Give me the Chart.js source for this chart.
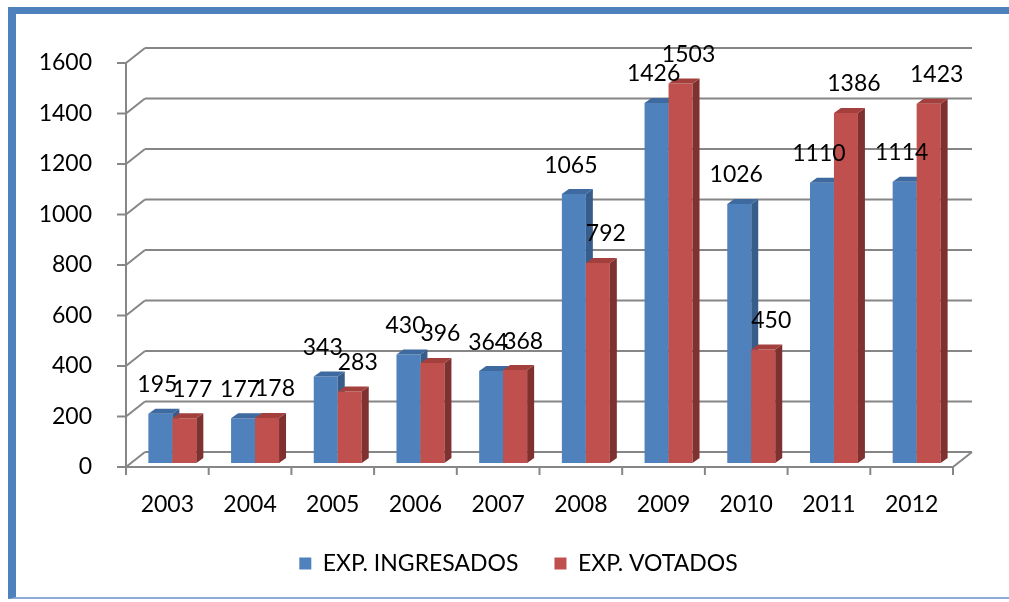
<!DOCTYPE html>
<html>
<head>
<meta charset="utf-8">
<script src="https://cdn.jsdelivr.net/npm/chart.js@4.4.1/dist/chart.umd.min.js"></script>
<style>
  html, body { margin: 0; padding: 0; background: #fff; }
  #wrap { position: relative; width: 1009px; height: 602px; overflow: hidden; }
  #frame {
    position: absolute; left: 8px; top: 7px; width: 1010px; height: 592px;
    border-left: 8px solid #4F81BD; border-top: 7px solid #4F81BD;
    border-bottom: 2px solid #8eaad6; box-sizing: border-box;
  }
  canvas { position: absolute; left: 0; top: 0; }
</style>
</head>
<body>
<div id="wrap">
  <canvas id="chart" width="1009" height="602"></canvas>
  <div id="frame"></div>
</div>
<script>
// data
const years = ["2003", "2004", "2005", "2006", "2007", "2008", "2009", "2010", "2011", "2012"];
const ingresados = [195, 177, 343, 430, 364, 1065, 1426, 1026, 1110, 1114];
const votados = [177, 178, 283, 396, 368, 792, 1503, 450, 1386, 1423];
const seriesNames = ["EXP. INGRESADOS", "EXP. VOTADOS"];
const yTicks = [0, 200, 400, 600, 800, 1000, 1200, 1400, 1600];

const FONT = "Lato, 'Open Sans', sans-serif";
const FSIZE = 23;
const DX = 19, DY = -15;      // depth of the back wall
const BX = 5, BY = -4;        // bars sit a little inside the box
const SX = 7, SY = -5;        // bar depth

const faces = [
  { front: "#4F81BD", top: "#3E6A9F", side: "#385D8A" },
  { front: "#C0504D", top: "#A3403D", side: "#7F3130" }
];

function line(ctx, x1, y1, x2, y2) {
  ctx.beginPath();
  ctx.moveTo(x1, y1);
  ctx.lineTo(x2, y2);
  ctx.stroke();
}

const box3d = {
  id: "box3d",
  afterLayout(chart) {
    // legend sits a bit right of the canvas centre
    chart.legend.left += 42;
    chart.legend.right += 42;
  },
  beforeDatasetsDraw(chart) {
    const ctx = chart.ctx;
    const y = chart.scales.y;
    const a = chart.chartArea;
    ctx.save();
    ctx.strokeStyle = "#868686";
    ctx.lineWidth = 2;
    // walls
    yTicks.forEach(v => {
      const py = y.getPixelForValue(v);
      line(ctx, a.left + DX, py + DY, a.right + DX, py + DY);
      line(ctx, a.left, py, a.left + DX, py + DY);
      line(ctx, a.left - 9, py, a.left, py);
    });
    line(ctx, a.left, a.top, a.left, a.bottom + 8);
    line(ctx, a.left, a.bottom, a.right, a.bottom);
    line(ctx, a.right, a.bottom, a.right + DX, a.bottom + DY);
    // category ticks
    for (let i = 0; i <= years.length; i++) {
      const px = a.left + (a.right - a.left) * i / years.length;
      line(ctx, px, a.bottom, px, a.bottom + 8);
    }

    // bars with their top and side faces
    ctx.translate(BX, BY);
    [0, 1].forEach(d => {
      const meta = chart.getDatasetMeta(d);
      meta.data.forEach(el => {
        const p = el.getProps(["x", "y", "base", "width"], true);
        const l = p.x - p.width / 2, r = p.x + p.width / 2;
        el.draw(ctx);
        ctx.fillStyle = faces[d].side;
        ctx.beginPath();
        ctx.moveTo(r, p.y); ctx.lineTo(r + SX, p.y + SY);
        ctx.lineTo(r + SX, p.base + SY); ctx.lineTo(r, p.base);
        ctx.closePath(); ctx.fill();
        ctx.fillStyle = faces[d].top;
        ctx.beginPath();
        ctx.moveTo(l, p.y); ctx.lineTo(l + SX, p.y + SY);
        ctx.lineTo(r + SX, p.y + SY); ctx.lineTo(r, p.y);
        ctx.closePath(); ctx.fill();
      });
    });

    // value labels
    ctx.fillStyle = "#000";
    ctx.font = FSIZE + "px " + FONT;
    ctx.textAlign = "center";
    ctx.textBaseline = "middle";
    const shift = [-3, 8];
    [0, 1].forEach(d => {
      const meta = chart.getDatasetMeta(d);
      const vals = chart.data.datasets[d].data;
      meta.data.forEach((el, i) => {
        const p = el.getProps(["x", "y"], true);
        ctx.fillText(String(vals[i]), p.x + shift[d], p.y - 29);
      });
    });
    ctx.restore();
    return false;
  }
};

new Chart(document.getElementById("chart"), {
  type: "bar",
  data: {
    labels: years,
    datasets: [
      { label: seriesNames[0], data: ingresados, backgroundColor: faces[0].front },
      { label: seriesNames[1], data: votados, backgroundColor: faces[1].front }
    ]
  },
  options: {
    responsive: false,
    animation: false,
    events: [],
    categoryPercentage: 0.58,
    barPercentage: 1,
    layout: { padding: { left: 0, right: 56, top: 63, bottom: 17 } },
    scales: {
      x: {
        grid: { display: false },
        border: { display: false },
        ticks: { color: "#000", font: { family: FONT, size: FSIZE }, padding: 16, maxRotation: 0 },
        afterFit(s) { s.height = 49; }
      },
      y: {
        min: 0, max: 1600,
        grid: { display: false },
        border: { display: false },
        ticks: {
          stepSize: 200, color: "#000", font: { family: FONT, size: FSIZE }, padding: 26,
          callback: v => String(v)
        },
        afterFit(s) { s.width = 126; }
      }
    },
    plugins: {
      legend: {
        position: "bottom",
        labels: {
          boxWidth: 12, boxHeight: 12, padding: 36, color: "#000",
          font: { family: FONT, size: FSIZE }
        }
      },
      tooltip: { enabled: false }
    }
  },
  plugins: [box3d]
});
</script>
</body>
</html>
